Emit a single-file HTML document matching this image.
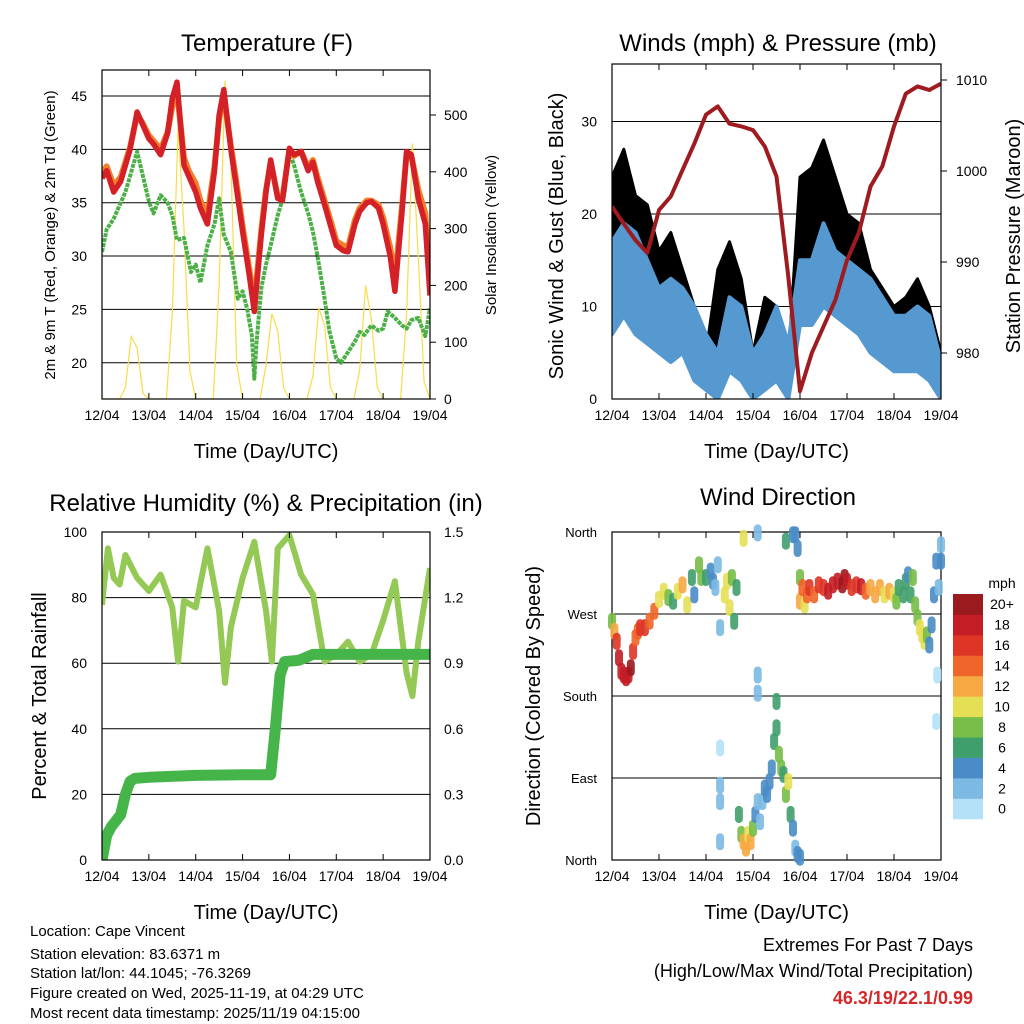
<!DOCTYPE html>
<html><head><meta charset="utf-8">
<style>
html,body{margin:0;padding:0;background:#fff;}
svg{display:block;font-family:"Liberation Sans",sans-serif;}
</style></head>
<body>
<svg id="chart" width="1024" height="1024" viewBox="0 0 1024 1024" xmlns="http://www.w3.org/2000/svg">
<rect x="0" y="0" width="1024" height="1024" fill="#fff"/>
<g id="layer"></g>
</svg>
<script>
// ---------- DATA ----------
const dayTicks = ["12/04","13/04","14/04","15/04","16/04","17/04","18/04","19/04"];
const qDays = [0,0.25,0.5,0.75,1,1.25,1.5,1.75,2,2.25,2.5,2.75,3,3.25,3.5,3.75,4,4.25,4.5,4.75,5,5.25,5.5,5.75,6,6.25,6.5,6.75,7];
const tempDays = [0,0.1,0.25,0.4,0.5,0.6,0.75,0.85,1,1.1,1.25,1.4,1.5,1.6,1.75,1.85,2,2.1,2.25,2.4,2.5,2.6,2.75,2.85,3,3.15,3.25,3.4,3.5,3.6,3.75,3.85,4,4.1,4.25,4.4,4.5,4.6,4.75,4.9,5,5.15,5.25,5.4,5.5,5.65,5.75,5.9,6,6.15,6.25,6.4,6.5,6.6,6.75,6.9,7];
const temp2m = [37.3,38.0,36.0,37.0,38.5,40.0,43.5,42.5,41.0,40.5,39.5,41.5,44.8,46.3,38.5,37.5,36.0,34.5,33.0,38.0,43.2,45.6,40.0,37.0,32.3,28.0,24.8,32.0,36.0,39.0,35.4,35.2,40.1,39.5,39.8,38.0,38.8,37.0,34.8,32.5,31.0,30.5,30.4,33.0,34.2,35.0,35.1,34.5,33.0,30.0,26.7,34.0,39.8,39.5,35.4,33.0,26.3];
const temp9m = [37.8,38.4,36.6,37.4,38.8,40.2,43.2,42.6,41.3,40.8,40.0,41.6,44.0,45.5,39.2,38.0,36.8,35.2,33.8,38.4,42.8,45.0,40.3,37.5,32.8,28.6,25.6,32.4,36.2,38.8,35.6,35.4,40.0,39.4,39.8,38.3,39.0,37.4,35.2,33.0,31.4,31.0,30.8,33.4,34.5,35.2,35.2,34.8,33.6,30.8,27.8,34.5,39.6,39.4,36.2,34.0,27.5];
const dewDays = [0,0.1,0.25,0.4,0.5,0.6,0.75,0.9,1,1.1,1.25,1.4,1.5,1.6,1.75,1.9,2,2.1,2.25,2.4,2.5,2.6,2.75,2.9,3,3.1,3.2,3.25,3.3,3.4,3.5,3.6,3.75,3.9,4,4.1,4.25,4.4,4.5,4.6,4.75,4.85,5,5.1,5.25,5.4,5.5,5.6,5.75,5.9,6,6.1,6.25,6.4,6.5,6.6,6.75,6.9,7];
const dew2m = [30.4,32.5,33.5,35.0,36.0,37.5,39.8,37.0,35.1,34.0,35.7,35.0,33.8,31.5,31.7,28.5,29.2,27.5,31.0,33.0,35.4,32.0,30.4,26.0,26.7,25.0,22.5,18.5,22.0,27.0,29.2,31.0,33.8,36.0,39.8,38.5,36.0,34.0,32.3,30.0,26.0,23.0,20.4,20.0,21.0,22.0,22.9,22.6,23.5,23.0,23.2,24.8,24.2,23.5,23.2,24.0,24.2,22.5,25.1];
const solarDays = [];
for (let i = 0; i <= 56; i++) solarDays.push(i/8);
const solar = [0,0,0,0,20,110,90,10, 0,0,0,0,150,480,300,50, 0,0,0,0,200,560,420,60, 0,0,0,0,60,150,120,20, 0,0,0,0,40,160,130,20, 0,0,0,0,50,200,140,20, 0,0,0,0,150,450,250,30, 0];
const tempTicks = [20,25,30,35,40,45];
const solarTicks = [0,100,200,300,400,500];

const pressure = [996.1,994.2,992.4,991.0,995.7,997.2,1000.1,1003.0,1006.2,1007.1,1005.2,1004.9,1004.5,1002.7,999.4,988.4,975.8,980.0,982.9,985.8,990.2,993.2,998.3,1000.5,1004.9,1008.5,1009.3,1008.9,1009.6];
const windLow  = [7,9,7,6,5,4,5,2,1,0,3,2,0,1,2,0,8,8,10,9,8,7,5,4,3,3,3,2,0];
const windHigh = [17,19,18,15,12,13,12,10,7,5,11,10,5,7,10,6,15,15,19,16,15,14,13,11,9,9,10,9,4];
const gustLow  = [10,15,10,8,6,4,5,3,1,3,5,2,1,3,5,1,12,14,16,12,10,8,6,5,4,5,6,4,1];
const gustHigh = [24,27,22,21,16,18,14,10,5,14,17,13,5,11,10,4,24,25,28,24,20,19,14,12,10,11,13,10,5];
const windTicks = [0,10,20,30];
const pressTicks = [980,990,1000,1010];

const rhDays = [0,0.125,0.25,0.375,0.5,0.75,1,1.25,1.5,1.625,1.75,2,2.25,2.5,2.625,2.75,3,3.25,3.5,3.625,3.75,4,4.25,4.5,4.75,5,5.25,5.5,5.75,6,6.25,6.5,6.625,6.75,7];
const rh = [77.8,95,86,84,93,86,82,87,77,60.5,79,77,95,76,54,71,86,97,76,60.5,95,99,87,81,60.5,62.6,66.6,60.5,62.6,73,85,57,50,66.6,89];
const precipDays = [0,0.1,0.2,0.3,0.4,0.5,0.6,0.7,1,2,3,3.6,3.7,3.8,3.9,4.2,4.5,7];
const precip = [0,0.113,0.153,0.18,0.207,0.30,0.36,0.373,0.378,0.387,0.39,0.39,0.603,0.847,0.907,0.913,0.94,0.94];
const rhTicks = [0,20,40,60,80,100];
const precipTicks = ["0.0","0.3","0.6","0.9","1.2","1.5"];

const dirDays = [0,0.05,0.1,0.15,0.2,0.25,0.3,0.35,0.4,0.45,0.5,0.55,0.6,0.7,0.8,0.9,1.0,1.1,1.2,1.3,1.4,1.5,1.6,1.7,1.75,1.85,1.9,2.0,2.1,2.15,2.2,2.25,2.3,2.4,2.45,2.5,2.55,2.6,2.65,2.8,3.1,3.1,3.1,3.7,3.85,3.9,3.95,4.0,4.0,4.05,4.1,4.15,4.2,4.3,4.4,4.5,4.6,4.7,4.8,4.9,4.95,5.0,5.1,5.2,5.3,5.4,5.5,5.6,5.7,5.8,5.9,6.0,6.05,6.1,6.2,6.25,6.3,6.35,6.4,6.45,6.5,6.55,6.6,6.65,6.7,6.75,6.8,6.85,6.9,6.92,6.95,7.0,7.0,
 2.3,2.3,2.3,2.3,2.7,2.75,2.8,2.85,2.9,2.95,3.0,3.05,3.1,3.15,3.2,3.25,3.3,3.35,3.4,3.45,3.5,3.5,3.55,3.6,3.65,3.7,3.75,3.8,3.85,3.9,3.95,4.0,6.9];
const dirDeg = [262,251,240,222,207,203,200,203,211,229,244,251,255,255,262,273,286,295,288,284,295,302,280,310,291,324,310,310,317,306,299,324,255,291,306,277,310,262,299,353,359,203,183,350,357,357,342,310,284,299,280,291,299,291,302,299,295,302,306,302,310,306,299,302,300,295,299,291,299,291,295,291,284,299,291,306,313,291,310,280,266,255,247,240,247,236,258,291,328,203,299,346,328,
 123,82,64,20,50,28,20,13,28,20,35,50,64,42,64,79,72,86,101,130,145,174,116,101,94,72,86,50,35,13,6,3,152];
const dirSpeed = [8,12,16,18,18,18,18,18,20,16,14,14,16,16,14,14,10,10,8,6,10,12,10,6,4,8,8,6,4,4,2,2,2,10,10,10,8,6,6,10,2,2,2,6,4,4,4,8,12,14,10,14,16,14,16,16,18,18,18,20,20,18,16,16,18,14,12,12,12,10,12,10,8,6,6,6,4,6,8,8,8,10,10,10,8,4,4,4,4,0,2,2,4,
 0,2,2,2,6,8,12,12,10,12,8,4,2,2,2,4,4,4,4,6,6,6,8,8,6,8,10,6,4,2,4,4,0];
const dirLabels = ["North","East","South","West","North"];
const speedBins = ["0","2","4","6","8","10","12","14","16","18","20+"];
const speedColors = ["#b5e1f8","#7cb9e3","#4a8cc6","#3f9f6c","#77bd47","#e5df55","#f6a943","#ef6428","#de3526","#c31d25","#9b1a1e"];

// ---------- HELPERS ----------
const NS = "http://www.w3.org/2000/svg";
const layer = document.getElementById("layer");
function el(tag, attrs, parent) {
  const e = document.createElementNS(NS, tag);
  for (const k in attrs) e.setAttribute(k, attrs[k]);
  (parent || layer).appendChild(e);
  return e;
}
function txt(s, x, y, size, anchor, parent, extra) {
  const t = el("text", Object.assign({x: x, y: y, "font-size": size, "text-anchor": anchor || "middle", fill: "#000"}, extra || {}), parent);
  t.textContent = s;
  return t;
}
function linePath(xs, ys, fx, fy) {
  return xs.map((d, i) => (i ? "L" : "M") + fx(d).toFixed(1) + "," + fy(ys[i]).toFixed(1)).join("");
}
function bandPath(xs, lo, hi, fx, fy) {
  let p = xs.map((d, i) => (i ? "L" : "M") + fx(d).toFixed(1) + "," + fy(hi[i]).toFixed(1)).join("");
  for (let i = xs.length - 1; i >= 0; i--) p += "L" + fx(xs[i]).toFixed(1) + "," + fy(lo[i]).toFixed(1);
  return p + "Z";
}
function frame(g, x0, y0, x1, y1, xName) {
  const f = el("rect", {x: x0, y: y0, width: x1 - x0, height: y1 - y0, fill: "none", stroke: "#000", "stroke-width": 1.2}, g);
  
  
}
function xAxis(g, x0, x1, y0, y1, name) {
  const fx = d => x0 + d * (x1 - x0) / 7;
  dayTicks.forEach((lab, i) => {
    el("line", {x1: fx(i), x2: fx(i), y1: y1, y2: y1 - 6, stroke: "#000"}, g);
    el("line", {x1: fx(i), x2: fx(i), y1: y0, y2: y0 + 6, stroke: "#000"}, g);
    const t = txt(lab, fx(i), y1 + 21, 14, "middle", g);
    
    
  });
  const t = txt("Time (Day/UTC)", (x0 + x1) / 2, y1 + 59, 20, "middle", g);
  
  
  return fx;
}

// ---------- PANEL 1: TEMPERATURE ----------
(function () {
  const g = el("g", {});
  
  
  const x0 = 102, x1 = 430, y0 = 70, y1 = 399;
  const fy = T => 96 + (45 - T) * 10.67;
  const fs = s => 399 - s * 0.568;
  const fx = d => x0 + d * (x1 - x0) / 7;
  const clip = el("clipPath", {id: "c1"}, g);
  el("rect", {x: x0, y: y0, width: x1 - x0, height: y1 - y0}, clip);
  tempTicks.forEach(v => {
    el("line", {x1: x0, x2: x1, y1: fy(v), y2: fy(v), stroke: "#000", "stroke-width": 1}, g);
    const t = txt(String(v), x0 - 15, fy(v) + 5, 14, "end", g);
    
    
  });
  solarTicks.forEach(v => {
    el("line", {x1: x1, x2: x1 + 6, y1: fs(v), y2: fs(v), stroke: "#000"}, g);
    const t = txt(String(v), x1 + 14, fs(v) + 5, 14, "start", g);
    
    
  });
  const cg = el("g", {"clip-path": "url(#c1)"}, g);
  const s = el("path", {d: linePath(solarDays, solar, fx, fs), fill: "none", stroke: "#f8dc4a", "stroke-width": 1.2}, cg);
  
  
  const dw = el("path", {d: linePath(dewDays, dew2m, fx, fy), fill: "none", stroke: "#4caf48", "stroke-width": 4, "stroke-linejoin": "round", "stroke-dasharray": "4,1"}, cg);
  
  
  const o = el("path", {d: linePath(tempDays, temp9m, fx, fy), fill: "none", stroke: "#f47f2a", "stroke-width": 6, "stroke-linejoin": "round"}, cg);
  
  
  const r = el("path", {d: linePath(tempDays, temp2m, fx, fy), fill: "none", stroke: "#d42027", "stroke-width": 5.5, "stroke-linejoin": "round"}, cg);
  
  
  frame(g, x0, y0, x1, y1, "temperature");
  xAxis(g, x0, x1, y0, y1, "temperature");
  let t = txt("Temperature (F)", 267, 51, 24, "middle", g);
  
  
  t = txt("2m & 9m T (Red, Orange) & 2m Td (Green)", 0, 0, 15, "middle", g, {transform: "translate(55,235) rotate(-90)"});
  
  
  t = txt("Solar Insolation (Yellow)", 0, 0, 15, "middle", g, {transform: "translate(496,235) rotate(-90)"});
  
  
})();

// ---------- PANEL 2: WINDS ----------
(function () {
  const g = el("g", {});
  
  
  const x0 = 612, x1 = 941, y0 = 64, y1 = 399;
  const fw = w => 399 - w * 9.25;
  const fp = p => 80 + (1010 - p) * 9.1;
  const fx = d => x0 + d * (x1 - x0) / 7;
  const clip = el("clipPath", {id: "c2"}, g);
  el("rect", {x: x0, y: y0, width: x1 - x0, height: y1 - y0}, clip);
  windTicks.forEach(v => {
    el("line", {x1: x0, x2: x1, y1: fw(v), y2: fw(v), stroke: "#000"}, g);
    const t = txt(String(v), x0 - 15, fw(v) + 5, 14, "end", g);
    
    
  });
  pressTicks.forEach(v => {
    el("line", {x1: x1, x2: x1 + 6, y1: fp(v), y2: fp(v), stroke: "#000"}, g);
    const t = txt(String(v), x1 + 15, fp(v) + 5, 14, "start", g);
    
    
  });
  const cg = el("g", {"clip-path": "url(#c2)"}, g);
  const gb = el("path", {d: bandPath(qDays, gustLow, gustHigh, fx, fw), fill: "#000", stroke: "#000", "stroke-width": 3, "stroke-linejoin": "round"}, cg);
  
  
  const wb = el("path", {d: bandPath(qDays, windLow, windHigh, fx, fw), fill: "#5599d0", stroke: "#5599d0", "stroke-width": 4, "stroke-linejoin": "round"}, cg);
  
  
  const pl = el("path", {d: linePath(qDays, pressure, fx, fp), fill: "none", stroke: "#9e1b20", "stroke-width": 4, "stroke-linejoin": "round"}, cg);
  
  
  frame(g, x0, y0, x1, y1, "winds");
  xAxis(g, x0, x1, y0, y1, "winds");
  let t = txt("Winds (mph) & Pressure (mb)", 778, 51, 24, "middle", g);
  
  
  t = txt("Sonic Wind & Gust (Blue, Black)", 0, 0, 20, "middle", g, {transform: "translate(563,236) rotate(-90)"});
  
  
  t = txt("Station Pressure (Maroon)", 0, 0, 20, "middle", g, {transform: "translate(1020,236) rotate(-90)"});
  
  
})();

// ---------- PANEL 3: RH & PRECIP ----------
(function () {
  const g = el("g", {});
  
  
  const x0 = 102, x1 = 430, y0 = 532, y1 = 860;
  const fr = v => 860 - v * 3.28;
  const fp = v => 860 - v * 218.7;
  const fx = d => x0 + d * (x1 - x0) / 7;
  const clip = el("clipPath", {id: "c3"}, g);
  el("rect", {x: x0, y: y0, width: x1 - x0, height: y1 - y0}, clip);
  rhTicks.forEach((v, i) => {
    el("line", {x1: x0, x2: x1, y1: fr(v), y2: fr(v), stroke: "#000"}, g);
    let t = txt(String(v), x0 - 15, fr(v) + 5, 14, "end", g);
    
    
    t = txt(precipTicks[i], x1 + 14, fp(parseFloat(precipTicks[i])) + 5, 14, "start", g);
    
    
  });
  const cg = el("g", {"clip-path": "url(#c3)"}, g);
  const rl = el("path", {d: linePath(rhDays, rh, fx, fr), fill: "none", stroke: "#93c954", "stroke-width": 6, "stroke-linejoin": "round"}, cg);
  
  
  const pl = el("path", {d: linePath(precipDays, precip, fx, fp), fill: "none", stroke: "#46b549", "stroke-width": 11, "stroke-linejoin": "round", "stroke-linecap": "round"}, cg);
  
  
  frame(g, x0, y0, x1, y1, "humidity");
  xAxis(g, x0, x1, y0, y1, "humidity");
  let t = txt("Relative Humidity (%) & Precipitation (in)", 266, 511, 24, "middle", g);
  
  
  t = txt("Percent & Total Rainfall", 0, 0, 20, "middle", g, {transform: "translate(46,696) rotate(-90)"});
  
  
})();

// ---------- PANEL 4: WIND DIRECTION ----------
(function () {
  const g = el("g", {});
  
  
  const x0 = 612, x1 = 941, y0 = 532, y1 = 860;
  const fd = v => 860 - v * 0.9111;
  const fx = d => x0 + d * (x1 - x0) / 7;
  dirLabels.forEach((lab, i) => {
    const v = i * 90;
    el("line", {x1: x0, x2: x1, y1: fd(v), y2: fd(v), stroke: "#000"}, g);
    const t = txt(lab, x0 - 15, fd(v) + 5, 13, "end", g);
    
    
  });
  const cg = el("g", {});
  dirDays.forEach((d, i) => {
    const bin = Math.min(10, Math.round(dirSpeed[i] / 2));
    const c = el("line", {x1: fx(d).toFixed(1), x2: fx(d).toFixed(1), y1: fd(dirDeg[i] + 5).toFixed(1), y2: fd(dirDeg[i] - 5).toFixed(1), stroke: speedColors[bin], "stroke-width": 8, "stroke-linecap": "round", "stroke-opacity": 0.9}, cg);
    
    
  });
  frame(g, x0, y0, x1, y1, "direction");
  xAxis(g, x0, x1, y0, y1, "direction");
  let t = txt("Wind Direction", 778, 505, 24, "middle", g);
  
  
  t = txt("Direction (Colored By Speed)", 0, 0, 20, "middle", g, {transform: "translate(540,696) rotate(-90)"});
  
  
  // colorbar
  const lg = el("g", {});
  
  
  const bh = 20.45;
  speedBins.forEach((lab, i) => {
    const k = speedBins.length - 1 - i;
    const y = 594 + k * bh;
    const r = el("rect", {x: 953, y: y.toFixed(1), width: 30, height: (bh + 0.4).toFixed(1), fill: speedColors[i]}, lg);
    
    
    const tt = txt(lab, 1002, y + bh / 2 + 5, 14, "middle", lg);
    
    
  });
  t = txt("mph", 1002, 588, 14, "middle", lg);
  
  
})();

// ---------- FOOTER ----------
(function () {
  const lines = ["Location: Cape Vincent","Station elevation: 83.6371 m","Station lat/lon: 44.1045; -76.3269","Figure created on Wed, 2025-11-19, at 04:29 UTC","Most recent data timestamp: 2025/11/19 04:15:00"];
  const ys = [936, 959, 978, 998, 1018];
  lines.forEach((s, i) => {
    const t = txt(s, 30, ys[i], 15, "start");
    
    
  });
  let t = txt("Extremes For Past 7 Days", 973, 951, 18, "end");
  
  
  t = txt("(High/Low/Max Wind/Total Precipitation)", 973, 977, 18, "end");
  
  
  t = txt("46.3/19/22.1/0.99", 973, 1004, 18, "end", null, {"font-weight": "bold", fill: "#d62728"});
  
  
})();
</script>
</body></html>
